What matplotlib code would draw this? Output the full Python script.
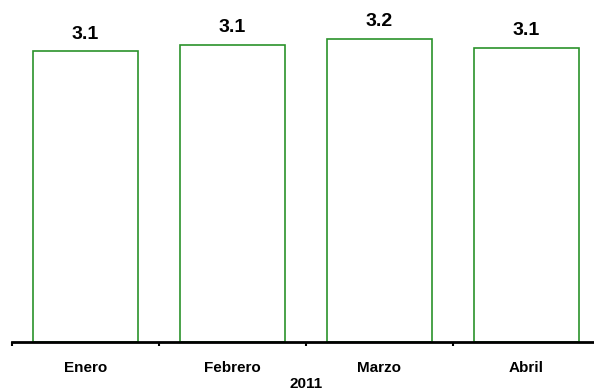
import matplotlib.pyplot as plt
import numpy as np

plt.rcParams["font.family"] = ["Liberation Sans", "DejaVu Sans"]

# Data
months = ["Enero", "Febrero", "Marzo", "Abril"]
values = [3.07, 3.14, 3.20, 3.11]
year_label = "2011"

fig = plt.figure(figsize=(5.94, 3.91), dpi=100)
# axes runs off the right edge, like the original
ax = fig.add_axes([12 / 594, 49 / 391, 588 / 594, 342 / 391])

x = np.arange(len(months))
bars = ax.bar(x, values, width=0.71, facecolor="white",
              edgecolor="#2b922b", linewidth=1.2)

for bar, v in zip(bars, values):
    ax.annotate(f"{v:.1f}", (bar.get_x() + bar.get_width() / 2, bar.get_height()),
                xytext=(0, 9), textcoords="offset points",
                ha="center", va="baseline", fontsize=14, fontweight="bold")

ax.set_xlim(-0.5, len(months) - 0.5)
ax.set_ylim(0, 3.2 * 342 / 303)

# category labels centred, tick marks at boundaries
ax.set_xticks(x)
ax.set_xticklabels(months, fontsize=11, fontweight="bold")
ax.tick_params(axis="x", which="major", length=0, pad=14)
ax.set_xticks(np.arange(len(months)) - 0.5, minor=True)
ax.tick_params(axis="x", which="minor", length=3, width=1.5, direction="out")
ax.set_xlabel(year_label, fontsize=11, fontweight="bold", labelpad=1)

ax.set_yticks([])
for side in ["top", "right", "left"]:
    ax.spines[side].set_visible(False)
ax.spines["bottom"].set_linewidth(2)

fig.savefig("out.png", dpi=100)
